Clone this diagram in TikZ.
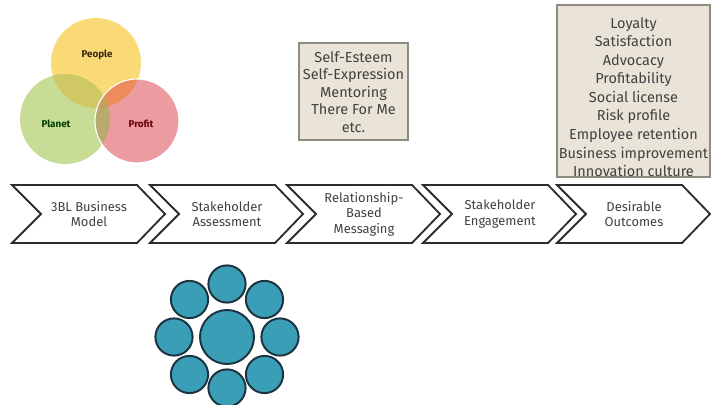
\documentclass[tikz,border=0pt]{standalone}
\usepackage{fontspec}
\setmainfont{Fira Sans}
\usetikzlibrary{positioning}
\definecolor{mpeople}{RGB}{250,218,118}
\definecolor{mplanet}{RGB}{200,220,150}
\definecolor{mprofit}{RGB}{236,155,160}
\definecolor{mpeoplanet}{RGB}{208,200,100}
\definecolor{mpeoprofit}{RGB}{236,140,90}
\definecolor{mplaprofit}{RGB}{185,170,110}
\definecolor{mall}{RGB}{195,160,95}
\definecolor{mbox}{RGB}{234,228,216}
\definecolor{mboxline}{RGB}{140,140,130}
\definecolor{mstage}{RGB}{45,45,45}
\definecolor{mtext}{RGB}{65,65,65}
\definecolor{mcell}{RGB}{58,158,182}
\definecolor{mcellline}{RGB}{28,52,66}
\tikzset{
    stagebox/.style={draw=mstage, fill=white, line width=1.3pt, line join=miter},
    stagetext/.style={align=center, text=mtext, font=\fontsize{9.2}{11}\selectfont},
    listbox/.style={draw=mboxline, fill=mbox, line width=1pt},
    listtext/.style={align=center, text=mtext, inner sep=0pt},
    vennlabel/.style={font=\fontsize{7}{8}\selectfont\bfseries},
    cell/.style={circle, draw=mcellline, fill=mcell, line width=1.4pt, inner sep=0pt},
}

\begin{document}
\begin{tikzpicture}[x=0.025cm, y=-0.025cm]
    \useasboundingbox (0,0) rectangle (711,405);
    % triple bottom line
    \fill[mpeople] (96,63) circle[radius=45];
    \fill[mplanet] (65,119) circle[radius=45];
    \fill[mprofit] (137,121) circle[radius=42];
    \begin{scope}
        \clip (96,63) circle[radius=45];
        \fill[mpeoplanet] (65,119) circle[radius=45];
        \fill[mpeoprofit] (137,121) circle[radius=42];
    \end{scope}
    \begin{scope}
        \clip (65,119) circle[radius=45];
        \fill[mplaprofit] (137,121) circle[radius=42];
        \clip (96,63) circle[radius=45];
        \fill[mall] (137,121) circle[radius=42];
    \end{scope}
    \draw[white, line width=0.8pt] (137,121) circle[radius=42];
    \node[vennlabel, text=black!70!brown] (people) at (97,55) {People};
    \node[vennlabel, text=black!75!green] (planet) at (56,124) {Planet};
    \node[vennlabel, text=black!60!red] (profit) at (141,124) {Profit};

    % lists
    \draw[listbox] (299,43) rectangle (408,140);
    \node[listtext, font=\fontsize{10.3}{12.5}\selectfont] (needs) at (353.5,92)
        {Self-Esteem\\Self-Expression\\Mentoring\\There For Me\\etc.};
    \draw[listbox] (557,5) rectangle (710,177);
    \node[listtext, font=\fontsize{10.3}{13.2}\selectfont] (outcomes) at (633.5,97)
        {Loyalty\\Satisfaction\\Advocacy\\Profitability\\Social license\\Risk profile\\
         Employee retention\\Business improvement\\Innovation culture};

    % process chevrons
    \draw[stagebox] (12,185) -- (137,185) -- (165,214) -- (137,243) -- (12,243) -- (41,214) -- cycle;
    \draw[stagebox] (150,185) -- (275,185) -- (303,214) -- (275,243) -- (150,243) -- (179,214) -- cycle;
    \draw[stagebox] (287,185) -- (412,185) -- (440,214) -- (412,243) -- (287,243) -- (316,214) -- cycle;
    \draw[stagebox] (423,185) -- (548,185) -- (576,214) -- (548,243) -- (423,243) -- (452,214) -- cycle;
    \draw[stagebox] (557,185) -- (682,185) -- (710,214) -- (682,243) -- (557,243) -- (586,214) -- cycle;
    \node[stagetext] (model) at (89,214) {3BL Business\\Model};
    \node[stagetext] (assess) at (227,214) {Stakeholder\\Assessment};
    \node[stagetext] (messaging) at (364,214) {Relationship-\\Based\\Messaging};
    \node[stagetext] (engage) at (500,214) {Stakeholder\\Engagement};
    \node[stagetext] (desire) at (634,214) {Desirable\\Outcomes};

    % stakeholders
    \node[cell, minimum size=1.35cm] (hub) at (227,337) {};
    \node[cell, minimum size=0.93cm] (c1) at (227,284) {};
    \node[cell, minimum size=0.93cm] (c2) at (264.5,299.5) {};
    \node[cell, minimum size=0.93cm] (c3) at (280,337) {};
    \node[cell, minimum size=0.93cm] (c4) at (264.5,374.5) {};
    \node[cell, minimum size=0.93cm] (c5) at (227,388) {};
    \node[cell, minimum size=0.93cm] (c6) at (189.5,374.5) {};
    \node[cell, minimum size=0.93cm] (c7) at (174,337) {};
    \node[cell, minimum size=0.93cm] (c8) at (189.5,299.5) {};
\end{tikzpicture}
\end{document}
